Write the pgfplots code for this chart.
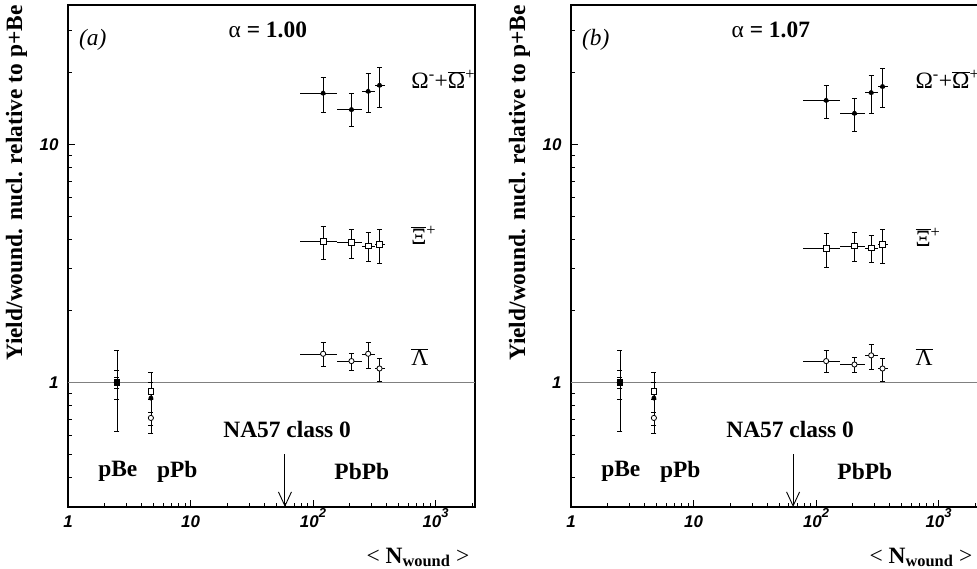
\documentclass[border=0pt]{standalone}
\usepackage{fontspec}
\setmainfont{Liberation Serif}
\setsansfont{Liberation Sans}
\usepackage{pgfplots}
\usepackage{pgfplotstable}
\pgfplotsset{compat=1.18}
\usetikzlibrary{arrows.meta}

% columns: x y ylo yhi xlo xhi
\pgfplotstableread{
x y ylo yhi xlo xhi
2.5 1 0.625 1.36 2.5 2.5
4.75 0.86 0.61 1.11 4.75 4.75
121 16.4 13.7 19.1 79 158
206 14.0 11.9 16.4 158 250
282 16.7 13.7 20.0 250 322
349 17.7 14.3 21.1 322 385
}\omegaA
\pgfplotstableread{
x y ylo yhi xlo xhi
2.5 1 0.85 1.13 2.5 2.5
4.75 0.92 0.85 1.0 4.75 4.75
121 3.92 3.29 4.54 79 158
206 3.88 3.34 4.42 158 250
282 3.74 3.23 4.26 250 322
349 3.80 3.18 4.42 322 385
}\xiA
\pgfplotstableread{
x y ylo yhi xlo xhi
2.5 1 0.95 1.05 2.5 2.5
4.75 0.71 0.66 0.75 4.75 4.75
121 1.32 1.17 1.47 79 158
206 1.23 1.13 1.33 158 250
282 1.32 1.15 1.47 250 322
349 1.145 1.01 1.27 322 385
}\lamA
\pgfplotstableread{
x y ylo yhi xlo xhi
2.5 1 0.625 1.36 2.5 2.5
4.75 0.86 0.61 1.11 4.75 4.75
121 15.3 12.85 17.7 79 158
206 13.5 11.4 15.7 158 250
282 16.5 13.5 19.6 250 322
349 17.5 14.3 20.9 322 385
}\omegaB
\pgfplotstableread{
x y ylo yhi xlo xhi
2.5 1 0.85 1.13 2.5 2.5
4.75 0.92 0.85 1.0 4.75 4.75
121 3.65 3.06 4.23 79 158
206 3.74 3.23 4.26 158 250
282 3.68 3.20 4.14 250 322
349 3.80 3.18 4.39 322 385
}\xiB
\pgfplotstableread{
x y ylo yhi xlo xhi
2.5 1 0.95 1.05 2.5 2.5
4.75 0.71 0.66 0.75 4.75 4.75
121 1.23 1.105 1.36 79 158
206 1.19 1.105 1.28 158 250
282 1.30 1.14 1.45 250 322
349 1.145 1.01 1.27 322 385
}\lamB

\newcommand{\bigf}{\fontsize{23.5}{28}\selectfont}
\newcommand{\tsup}[1]{\raisebox{0.55em}{\fontsize{13}{13}\selectfont #1}}
\pgfplotsset{
  every axis/.append style={
    scale only axis, width=407bp, height=502bp,
    xmin=1, xmax=2100, ymin=0.3, ymax=38.5,
    tick pos=left, tick align=inside,
    xtick={1,10,100,1000},
    xticklabels={1,10,10\tsup{2},10\tsup{3}},
    ytick={1,10}, yticklabels={1,10},
    minor xtick={2,3,4,5,6,7,8,9,20,30,40,50,60,70,80,90,200,300,400,500,600,700,800,900,2000},
    minor ytick={0.3,0.4,0.5,0.6,0.7,0.8,0.9,2,3,4,5,6,7,8,9,20,30},
    major tick length=7bp, minor tick length=4bp,
    axis line style={line width=1.2bp},
    tick label style={font=\fontsize{17}{18}\selectfont\sffamily\bfseries\itshape},
    yticklabel style={xshift=-6bp},
    xticklabel style={yshift=-2bp, anchor=base, yshift=-18bp},
    ylabel={Yield/wound. nucl. relative to p+Be},
    ylabel style={font=\bigf\bfseries, at={(axis description cs:-0.113,1.006)}, anchor=base east},
    xlabel={< \textbf{N}\textsubscript{\textbf{wound}} >},
    xlabel style={font=\bigf, at={(axis description cs:0.995,-0.1116)}, anchor=base east},
  },
  every tick/.append style={black, line width=0.8bp},
}

\begin{document}
\begin{tikzpicture}[font=\bigf]
\useasboundingbox (-68bp,-62bp) rectangle (909bp,507bp);
% ---------------- left panel ----------------
\begin{loglogaxis}[at={(0,0)}, anchor=south west]
  \addplot[gray, line width=0.8bp, forget plot] coordinates {(1,1) (2100,1)};
  \addplot[only marks, mark=none, black, line width=0.8bp, forget plot,
      error bars/.cd, x dir=both, x explicit, error mark=none]
      table[x=x, y=y, x error plus expr=\thisrow{xhi}-\thisrow{x}, x error minus expr=\thisrow{x}-\thisrow{xlo}] {\omegaA};
  \addplot[only marks, mark=none, black, line width=0.8bp, forget plot,
      error bars/.cd, x dir=both, x explicit, error mark=none]
      table[x=x, y=y, x error plus expr=\thisrow{xhi}-\thisrow{x}, x error minus expr=\thisrow{x}-\thisrow{xlo}] {\xiA};
  \addplot[only marks, mark=none, black, line width=0.8bp, forget plot,
      error bars/.cd, x dir=both, x explicit, error mark=none]
      table[x=x, y=y, x error plus expr=\thisrow{xhi}-\thisrow{x}, x error minus expr=\thisrow{x}-\thisrow{xlo}] {\lamA};
  \addplot[only marks, black, line width=0.8bp, mark=triangle*, mark size=2.2bp, mark options={fill=black},
    error bars/.cd, y dir=both, y explicit, error mark options={rotate=90, mark size=2.5bp}]
    table[x=x, y=y, y error plus expr=\thisrow{yhi}-\thisrow{y}, y error minus expr=\thisrow{y}-\thisrow{ylo}] {\omegaA};
  \addplot[only marks, black, line width=0.8bp, mark=square*, mark size=2.8bp, mark options={fill=white},
    error bars/.cd, y dir=both, y explicit, error mark options={rotate=90, mark size=2.5bp}]
    table[x=x, y=y, y error plus expr=\thisrow{yhi}-\thisrow{y}, y error minus expr=\thisrow{y}-\thisrow{ylo}] {\xiA};
  \addplot[only marks, black, line width=0.8bp, mark=*, mark size=2.6bp, mark options={fill=white},
    error bars/.cd, y dir=both, y explicit, error mark options={rotate=90, mark size=2.5bp}]
    table[x=x, y=y, y error plus expr=\thisrow{yhi}-\thisrow{y}, y error minus expr=\thisrow{y}-\thisrow{ylo}] {\lamA};
  \addplot[only marks, mark=square*, mark size=2.8bp, black, forget plot] coordinates {(2.5,1)};
  \draw[-{Straight Barb[length=14bp,width=13bp]}, line width=0.9bp] (axis cs:59,0.5) -- (axis cs:59,0.3);
  \node at (axis cs:61.5,0.635) {\bfseries NA57 class 0};
  \node at (axis cs:250,0.423) {\bfseries PbPb};
  \node at (axis cs:2.55,0.423) {\bfseries pBe};
  \node at (axis cs:7.8,0.423) {\bfseries pPb};
  \node at (rel axis cs:0.061,0.930) {\textit{(a)}};
  \node at (rel axis cs:0.491,0.950) {α \textbf{= 1.00}};
  \node[anchor=west] at (rel axis cs:0.835,0.851) {Ω\textsuperscript{-}+$\overline{\mbox{Ω}}$\textsuperscript{+}};
  \node[anchor=west] at (rel axis cs:0.835,0.542) {$\overline{\mbox{Ξ}}$\textsuperscript{+}};
  \node[anchor=west] at (rel axis cs:0.835,0.299) {$\overline{\mbox{Λ}}$};
\end{loglogaxis}
% ---------------- right panel ----------------
\begin{loglogaxis}[at={(503bp,0)}, anchor=south west]
  \addplot[gray, line width=0.8bp, forget plot] coordinates {(1,1) (2100,1)};
  \addplot[only marks, mark=none, black, line width=0.8bp, forget plot,
      error bars/.cd, x dir=both, x explicit, error mark=none]
      table[x=x, y=y, x error plus expr=\thisrow{xhi}-\thisrow{x}, x error minus expr=\thisrow{x}-\thisrow{xlo}] {\omegaB};
  \addplot[only marks, mark=none, black, line width=0.8bp, forget plot,
      error bars/.cd, x dir=both, x explicit, error mark=none]
      table[x=x, y=y, x error plus expr=\thisrow{xhi}-\thisrow{x}, x error minus expr=\thisrow{x}-\thisrow{xlo}] {\xiB};
  \addplot[only marks, mark=none, black, line width=0.8bp, forget plot,
      error bars/.cd, x dir=both, x explicit, error mark=none]
      table[x=x, y=y, x error plus expr=\thisrow{xhi}-\thisrow{x}, x error minus expr=\thisrow{x}-\thisrow{xlo}] {\lamB};
  \addplot[only marks, black, line width=0.8bp, mark=triangle*, mark size=2.2bp, mark options={fill=black},
    error bars/.cd, y dir=both, y explicit, error mark options={rotate=90, mark size=2.5bp}]
    table[x=x, y=y, y error plus expr=\thisrow{yhi}-\thisrow{y}, y error minus expr=\thisrow{y}-\thisrow{ylo}] {\omegaB};
  \addplot[only marks, black, line width=0.8bp, mark=square*, mark size=2.8bp, mark options={fill=white},
    error bars/.cd, y dir=both, y explicit, error mark options={rotate=90, mark size=2.5bp}]
    table[x=x, y=y, y error plus expr=\thisrow{yhi}-\thisrow{y}, y error minus expr=\thisrow{y}-\thisrow{ylo}] {\xiB};
  \addplot[only marks, black, line width=0.8bp, mark=*, mark size=2.6bp, mark options={fill=white},
    error bars/.cd, y dir=both, y explicit, error mark options={rotate=90, mark size=2.5bp}]
    table[x=x, y=y, y error plus expr=\thisrow{yhi}-\thisrow{y}, y error minus expr=\thisrow{y}-\thisrow{ylo}] {\lamB};
  \addplot[only marks, mark=square*, mark size=2.8bp, black, forget plot] coordinates {(2.5,1)};
  \draw[-{Straight Barb[length=14bp,width=13bp]}, line width=0.9bp] (axis cs:65,0.5) -- (axis cs:65,0.3);
  \node at (axis cs:61.5,0.635) {\bfseries NA57 class 0};
  \node at (axis cs:250,0.423) {\bfseries PbPb};
  \node at (axis cs:2.55,0.423) {\bfseries pBe};
  \node at (axis cs:7.8,0.423) {\bfseries pPb};
  \node at (rel axis cs:0.061,0.930) {\textit{(b)}};
  \node at (rel axis cs:0.491,0.950) {α \textbf{= 1.07}};
  \node[anchor=west] at (rel axis cs:0.838,0.851) {Ω\textsuperscript{-}+$\overline{\mbox{Ω}}$\textsuperscript{+}};
  \node[anchor=west] at (rel axis cs:0.838,0.538) {$\overline{\mbox{Ξ}}$\textsuperscript{+}};
  \node[anchor=west] at (rel axis cs:0.838,0.299) {$\overline{\mbox{Λ}}$};
\end{loglogaxis}
\end{tikzpicture}
\end{document}
